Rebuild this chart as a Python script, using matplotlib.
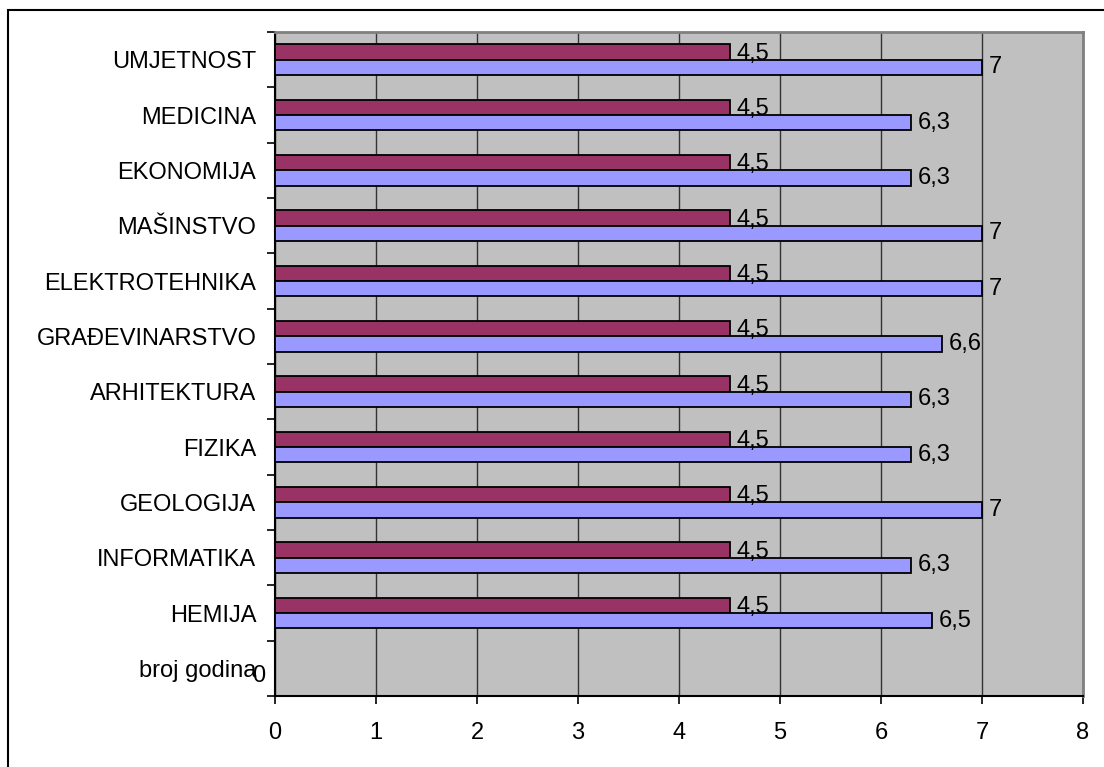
import matplotlib.pyplot as plt
import numpy as np
from matplotlib.patches import Rectangle

# Categories from bottom to top
categories = ['broj godina', 'HEMIJA', 'INFORMATIKA', 'GEOLOGIJA', 'FIZIKA',
              'ARHITEKTURA', 'GRAĐEVINARSTVO', 'ELEKTROTEHNIKA', 'MAŠINSTVO',
              'EKONOMIJA', 'MEDICINA', 'UMJETNOST']
series_top = [np.nan, 4.5, 4.5, 4.5, 4.5, 4.5, 4.5, 4.5, 4.5, 4.5, 4.5, 4.5]
series_bottom = [0, 6.5, 6.3, 7, 6.3, 6.3, 6.6, 7, 7, 6.3, 6.3, 7]
x_ticks = [0, 1, 2, 3, 4, 5, 6, 7, 8]

plt.rcParams['font.family'] = ['Liberation Sans', 'DejaVu Sans']
fs = 17

fig = plt.figure(figsize=(11.04, 7.67), dpi=100)
ax = fig.add_axes([275 / 1104, 1 - 696 / 767, 808 / 1104, 664 / 767])
ax.set_facecolor('#C0C0C0')

# Border around the chart area (runs off the right and bottom edge)
fig.patches.append(Rectangle((8 / 1104, -0.05), 1.1, 1 - 10 / 767 + 0.05,
                             transform=fig.transFigure, fill=False,
                             edgecolor='black', linewidth=1.5))

y = np.arange(len(categories))
h = 0.28

ax.barh(y + h / 2, series_top, height=h, color='#993366',
        edgecolor='black', linewidth=1.3, zorder=3)
ax.barh(y - h / 2, series_bottom, height=h, color='#9999FF',
        edgecolor='black', linewidth=1.3, zorder=3)

# Value labels
for yi, v in zip(y, series_top):
    if not np.isnan(v):
        ax.annotate(f'{v:g}'.replace('.', ','), (v, yi + h / 2 - 0.03),
                    xytext=(5, 0), textcoords='offset points',
                    va='center', ha='left', fontsize=fs)
for yi, v in zip(y, series_bottom):
    if v == 0:
        ax.annotate('0', (v, yi - h / 2), xytext=(-7, 0),
                    textcoords='offset points', va='center', ha='right',
                    fontsize=fs)
    else:
        ax.annotate(f'{v:g}'.replace('.', ','), (v, yi - h / 2),
                    xytext=(5, 0), textcoords='offset points',
                    va='center', ha='left', fontsize=fs)

ax.set_xlim(0, 8)
ax.set_ylim(-0.5, len(categories) - 0.5)
ax.set_xticks(x_ticks)
ax.set_xticklabels([str(t) for t in x_ticks], fontsize=fs)

# Category labels between tick marks at band boundaries
ax.set_yticks(np.arange(len(categories) + 1) - 0.5)
ax.set_yticklabels([])
ax.set_yticks(y, minor=True)
ax.set_yticklabels(categories, minor=True, fontsize=fs)
ax.tick_params(axis='y', which='minor', length=0, pad=13.5)
ax.tick_params(axis='y', which='major', length=6, width=1.2, direction='out')
ax.tick_params(axis='x', length=6, width=1.2, pad=13)

ax.grid(axis='x', color='#333333', linewidth=1, zorder=0)
ax.set_axisbelow(True)

ax.spines['left'].set_color('black')
ax.spines['bottom'].set_color('black')
ax.spines['left'].set_linewidth(1.5)
ax.spines['bottom'].set_linewidth(1.5)
ax.spines['top'].set_color('#808080')
ax.spines['right'].set_color('#808080')
ax.spines['top'].set_linewidth(2)
ax.spines['right'].set_linewidth(2)

fig.savefig('out.png', dpi=100)
